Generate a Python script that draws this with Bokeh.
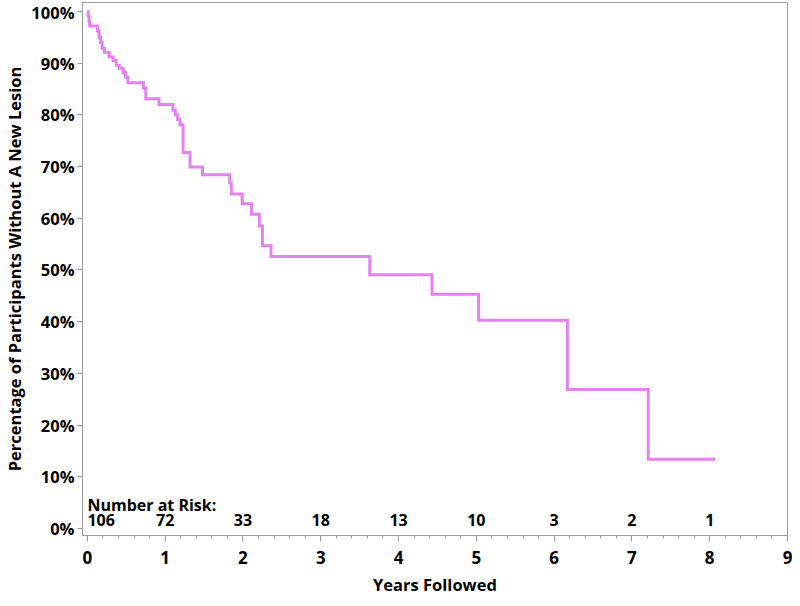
from bokeh.plotting import figure
from bokeh.models import FixedTicker, PrintfTickFormatter, Range1d, ColumnDataSource
from bokeh.core.properties import value
from bokeh.embed import file_html
from bokeh.resources import INLINE

# Kaplan-Meier estimate (years, percent without new lesion)
times = [0, 0.01, 0.02, 0.03, 0.13, 0.15, 0.17, 0.19, 0.22, 0.28, 0.33, 0.37, 0.41, 0.46, 0.49, 0.52,
         0.72, 0.75, 0.92, 1.10, 1.13, 1.16, 1.19, 1.23, 1.32, 1.48, 1.83, 1.85, 1.99, 2.11, 2.21, 2.25,
         2.36, 3.63, 4.43, 5.03, 6.17, 7.21, 8.07]
survival = [100, 99.1, 98.1, 97.2, 96.2, 95.0, 94.0, 92.9, 92.1, 91.2, 90.5, 89.6, 89.0, 88.2, 87.3, 86.2,
            85.2, 83.1, 82.0, 80.9, 80.0, 79.1, 78.1, 72.7, 69.9, 68.4, 66.8, 64.7, 62.8, 60.8, 58.5, 54.7,
            52.6, 49.1, 45.3, 40.3, 26.9, 13.4, 13.4]

risk_years = [0, 1, 2, 3, 4, 5, 6, 7, 8]
risk_counts = [106, 72, 33, 18, 13, 10, 3, 2, 1]

x_ticks = [0, 1, 2, 3, 4, 5, 6, 7, 8, 9]
y_ticks = [0, 10, 20, 30, 40, 50, 60, 70, 80, 90, 100]

FONT = "Open Sans"
GREY = "#9a9a9a"

p = figure(width=792, height=598, output_backend="svg", toolbar_location=None,
           x_range=Range1d(-0.063, 9.0), y_range=Range1d(-1.35, 101.73),
           min_border_left=81, min_border_right=5, min_border_top=2, min_border_bottom=60)

p.step(times, survival, mode="after", line_color="#E482F0", line_width=3, line_join="miter")

# Number at risk
src = ColumnDataSource(dict(x=risk_years[1:], y=[1.7] * (len(risk_years) - 1),
                            t=[str(c) for c in risk_counts[1:]]))
p.text(x="x", y="y", text="t", source=src, text_align="center", text_baseline="middle",
       text_font=value(FONT), text_font_style="bold", text_font_size="16px", text_color="black")
p.text(x=[risk_years[0]], y=[1.7], text=[str(risk_counts[0])], text_align="left", text_baseline="middle",
       text_font=value(FONT), text_font_style="bold", text_font_size="16px", text_color="black")
p.text(x=[0], y=[4.6], text=["Number at Risk:"], text_align="left", text_baseline="middle",
       text_font=value(FONT), text_font_style="bold", text_font_size="16px", text_color="black")

p.grid.visible = False
p.outline_line_color = GREY
p.outline_line_width = 1
p.background_fill_color = "white"
p.border_fill_color = "white"

xa = p.xaxis[0]
xa.ticker = FixedTicker(ticks=x_ticks, minor_ticks=[i * 0.2 for i in range(46)])
xa.axis_label = "Years Followed"
ya = p.yaxis[0]
ya.ticker = FixedTicker(ticks=y_ticks)
ya.formatter = PrintfTickFormatter(format="%d%%")
ya.axis_label = "Percentage of Participants Without A New Lesion"

for ax in (xa, ya):
    ax.axis_line_color = GREY
    ax.major_tick_line_color = GREY
    ax.minor_tick_line_color = GREY
    ax.major_tick_out = 6
    ax.major_tick_in = 0
    ax.minor_tick_out = 3
    ax.minor_tick_in = 0
    ax.major_label_text_font = FONT
    ax.major_label_text_font_style = "bold"
    ax.major_label_text_font_size = "17px"
    ax.major_label_text_color = "black"
    ax.axis_label_text_font = FONT
    ax.axis_label_text_font_style = "bold"
    ax.axis_label_text_font_size = "16.5px"
    ax.axis_label_text_color = "black"
ya.minor_tick_out = 0
ya.major_tick_out = 5
ya.major_label_text_font_size = "16.5px"
xa.major_label_standoff = 9
xa.axis_label_standoff = 6
ya.major_label_standoff = 3
ya.axis_label_standoff = 2

open("out.html", "w").write(file_html(p, INLINE))
